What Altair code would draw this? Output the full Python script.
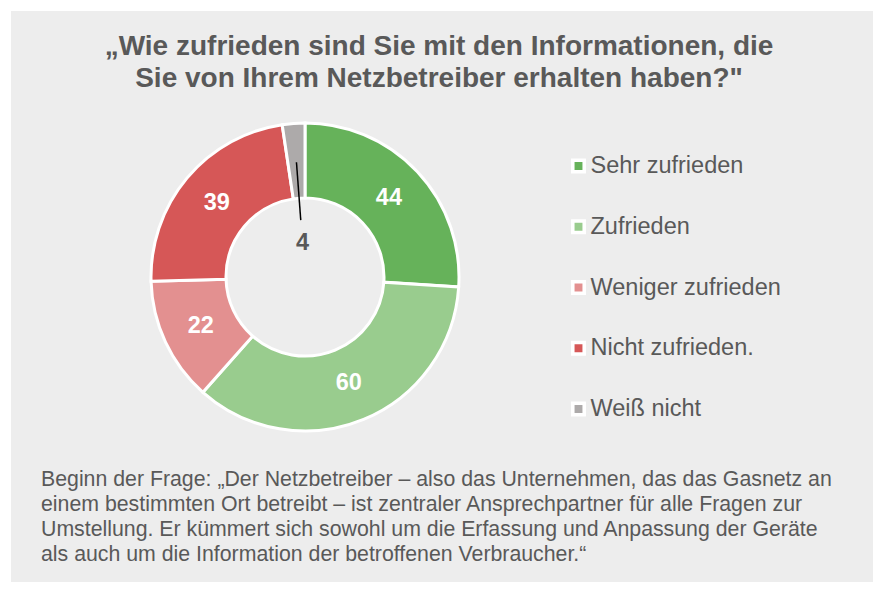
import math
import altair as alt
import pandas as pd

# ---- data ----
categories = ["Sehr zufrieden", "Zufrieden", "Weniger zufrieden", "Nicht zufrieden.", "Weiß nicht"]
values = [44, 60, 22, 39, 4]
colors = ["#66B25A", "#99CC8E", "#E39090", "#D65757", "#ADAAAA"]

title_lines = ["„Wie zufrieden sind Sie mit den Informationen, die",
               "Sie von Ihrem Netzbetreiber erhalten haben?\""]
note_lines = [
    "Beginn der Frage: „Der Netzbetreiber – also das Unternehmen, das das Gasnetz an",
    "einem bestimmten Ort betreibt – ist zentraler Ansprechpartner für alle Fragen zur",
    "Umstellung. Er kümmert sich sowohl um die Erfassung und Anpassung der Geräte",
    "als auch um die Information der betroffenen Verbraucher.“",
]

TEXT = "#595959"
BG = "#EDEDED"
FONT = "Liberation Sans"

df = pd.DataFrame({
    "category": categories,
    "value": values,
    "order": list(range(len(categories))),
})
df["inlabel"] = [str(v) if c != "Weiß nicht" else "" for c, v in zip(categories, values)]
df["outlabel"] = [str(v) if c == "Weiß nicht" else "" for c, v in zip(categories, values)]

CX, CY = 297, 269
R_OUT, R_IN = 154, 79

color_scale = alt.Scale(domain=categories, range=colors)

base = alt.Chart(df).encode(
    theta=alt.Theta("value:Q", stack=True),
    order=alt.Order("order:Q"),
    x=alt.value(CX), y=alt.value(CY),
)

arcs = base.mark_arc(innerRadius=R_IN, outerRadius=R_OUT, stroke="white",
                     strokeWidth=3).encode(
    color=alt.Color("category:N", scale=color_scale, legend=None)
)

in_labels = base.mark_text(radius=115, fontSize=23.5, fontWeight="bold", color="white",
                           font=FONT, baseline="middle", align="center").encode(
    text="inlabel:N"
)
out_labels = base.mark_text(radius=34, fontSize=23.5, fontWeight="bold", color=TEXT,
                            font=FONT, baseline="middle", align="center").encode(
    text="outlabel:N"
)

# leader line for the small slice, computed from its angle
total = sum(values)
mid = (sum(values[:-1]) + values[-1] / 2) / total * 2 * math.pi
x1, y1 = CX + 115 * math.sin(mid), CY - 115 * math.cos(mid)
x2, y2 = CX + 57 * math.sin(mid), CY - 57 * math.cos(mid)
leader = alt.Chart(df.head(1)).mark_rule(color="black", strokeWidth=1.5).encode(
    x=alt.value(x1), y=alt.value(y1), x2=alt.value(x2), y2=alt.value(y2)
)

# background panel
panel = alt.Chart(df.head(1)).mark_rect(color=BG).encode(
    x=alt.value(3), x2=alt.value(865), y=alt.value(3), y2=alt.value(574)
)

# legend
leg_y = alt.Y("category:N", scale=alt.Scale(type="point", domain=categories,
                                            range=[158, 401], padding=0), axis=None)
leg_sq = alt.Chart(df).mark_square(size=130, stroke="white", strokeWidth=3.5,
                                   opacity=1).encode(
    x=alt.value(570.5), y=leg_y,
    color=alt.Color("category:N", scale=color_scale, legend=None),
)
leg_txt = alt.Chart(df).mark_text(align="left", baseline="middle", fontSize=23.5,
                                  color=TEXT, font=FONT).encode(
    x=alt.value(582.5), y=leg_y, text="category:N"
)

title = alt.Chart(pd.DataFrame({"t": ["\n".join(title_lines)]})).mark_text(
    align="center", baseline="alphabetic", fontSize=28, fontWeight="bold",
    color=TEXT, font=FONT, lineBreak="\n", lineHeight=32
).encode(x=alt.value(431), y=alt.value(47), text="t:N")

note = alt.Chart(pd.DataFrame({"t": ["\n".join(note_lines)]})).mark_text(
    align="left", baseline="alphabetic", fontSize=21.3, color=TEXT, font=FONT,
    lineBreak="\n", lineHeight=25
).encode(x=alt.value(33), y=alt.value(478), text="t:N")

chart = alt.layer(panel, arcs, in_labels, leader, out_labels, leg_sq, leg_txt,
                  title, note).properties(
    width=865, height=574, padding=0, autosize="none", background="white"
).configure_view(stroke=None)

chart.save("out.html", embed_options={"renderer": "svg", "actions": False})
